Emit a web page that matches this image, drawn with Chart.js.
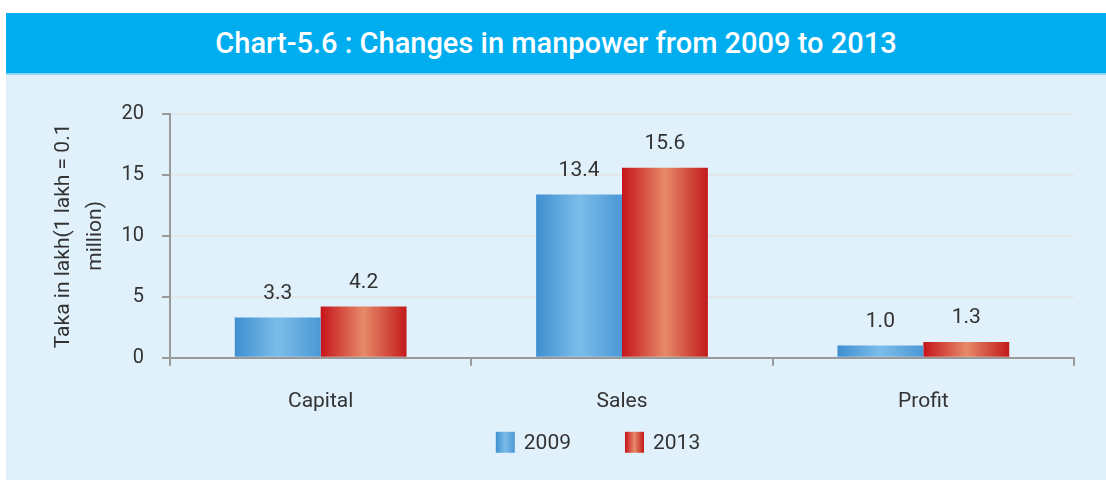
<!DOCTYPE html>
<html>
<head>
<meta charset="utf-8">
<script src="https://cdn.jsdelivr.net/npm/chart.js@4/dist/chart.umd.min.js"></script>
<style>
  body { margin: 0; background: #fff; width: 1106px; height: 483px; position: relative; overflow: hidden; }
  #header {
    position: absolute; left: 6px; top: 13px; width: 1100px; height: 60px;
    background: #00AEEF; color: #fff; border-bottom: 2px solid #8FD6F5;
    font-family: Roboto, "Liberation Sans", sans-serif; font-size: 29px; font-weight: 500;
    display: flex; align-items: center; justify-content: center;
  }
  #panel { position: absolute; left: 6px; top: 75px; width: 1100px; height: 405px; background: #E0F1FB; }
</style>
</head>
<body>
<div id="header">Chart-5.6 : Changes in manpower from 2009 to 2013</div>
<div id="panel"><canvas id="chart" width="1100" height="405"></canvas></div>
<script>
const categories = ['Capital', 'Sales', 'Profit'];
const seriesNames = ['2009', '2013'];
const values2009 = [3.3, 13.4, 1.0];
const values2013 = [4.2, 15.6, 1.3];
const yTicks = [0, 5, 10, 15, 20];

const blueStops = ['#3F8FD1', '#7BBDE9', '#4C98D6'];
const redStops = ['#C6141A', '#E68A6A', '#C21A1A'];
const FONT = 'Roboto, "Liberation Sans", sans-serif';

function hGrad(ctx, x0, x1, stops) {
    const g = ctx.createLinearGradient(x0, 0, x1, 0);
    g.addColorStop(0, stops[0]);
    g.addColorStop(0.5, stops[1]);
    g.addColorStop(1, stops[2]);
    return g;
}

function barFill(stops) {
    return function(c) {
        const el = c.chart.getDatasetMeta(c.datasetIndex).data[c.dataIndex];
        if (!el || el.x === undefined || !el.width) return stops[1];
        return hGrad(c.chart.ctx, el.x - el.width / 2, el.x + el.width / 2, stops);
    };
}

// value labels over the bars
const valueLabels = {
    id: 'valueLabels',
    afterDatasetsDraw(chart) {
        const ctx = chart.ctx;
        ctx.save();
        ctx.font = '21px ' + FONT;
        ctx.fillStyle = '#333';
        ctx.textAlign = 'center';
        ctx.textBaseline = 'middle';
        chart.data.datasets.forEach((ds, i) => {
            chart.getDatasetMeta(i).data.forEach((el, j) => {
                ctx.fillText(ds.data[j].toFixed(1), el.x, el.y - 24);
            });
        });
        ctx.restore();
    }
};

// legend with gradient boxes, below the axis labels
const gradLegend = {
    id: 'gradLegend',
    afterDraw(chart) {
        const ctx = chart.ctx;
        const area = chart.chartArea;
        const bw = 19, bh = 21, gap = 9, spacing = 54;
        ctx.save();
        ctx.font = '21px ' + FONT;
        const items = chart.data.datasets.map((ds, i) => ({
            text: ds.label, stops: i === 0 ? blueStops : redStops,
            w: bw + gap + ctx.measureText(ds.label).width
        }));
        const total = items.reduce((s, it) => s + it.w, 0) + spacing * (items.length - 1);
        let x = (area.left + area.right) / 2 - 24 - total / 2;
        const yTop = area.bottom + 74;
        ctx.textBaseline = 'middle';
        ctx.textAlign = 'left';
        items.forEach(it => {
            ctx.fillStyle = hGrad(ctx, x, x + bw, it.stops);
            ctx.fillRect(x, yTop, bw, bh);
            ctx.fillStyle = '#333';
            ctx.fillText(it.text, x + bw + gap, yTop + bh / 2 + 1);
            x += it.w + spacing;
        });
        ctx.restore();
    }
};

const ctx = document.getElementById('chart').getContext('2d');
const chart = new Chart(ctx, {
    type: 'bar',
    data: {
        labels: categories,
        datasets: [
            { label: seriesNames[0], data: values2009, backgroundColor: barFill(blueStops) },
            { label: seriesNames[1], data: values2013, backgroundColor: barFill(redStops) }
        ]
    },
    options: {
        responsive: false,
        animation: false,
        categoryPercentage: 0.57,
        barPercentage: 1,
        layout: { padding: { left: 41, right: 32, top: 39, bottom: 43 } },
        plugins: {
            tooltip: { enabled: false },
            legend: { display: false }
        },
        scales: {
            x: {
                grid: { drawOnChartArea: false, offset: true, tickLength: 8, color: '#999', lineWidth: 2 },
                border: { color: '#999', width: 2 },
                ticks: { color: '#333', padding: 23, font: { family: FONT, size: 21 } }
            },
            y: {
                min: 0, max: 20,
                afterBuildTicks: (s) => { s.ticks = yTicks.map(v => ({ value: v })); },
                grid: { color: '#E3E7EA', lineWidth: 2, tickLength: 8, tickColor: '#999' },
                border: { color: '#999', width: 2 },
                ticks: { color: '#333', padding: 18, font: { family: FONT, size: 20 } },
                title: {
                    display: true,
                    text: ['Taka in lakh(1 lakh = 0.1', 'million)'],
                    color: '#333',
                    font: { family: FONT, size: 21, lineHeight: 1.55 },
                    padding: { top: 0, bottom: 10 }
                },
                afterFit: (s) => { s.width = 123; }
            }
        }
    },
    plugins: [valueLabels, gradLegend]
});
chart.update();
</script>
</body>
</html>
